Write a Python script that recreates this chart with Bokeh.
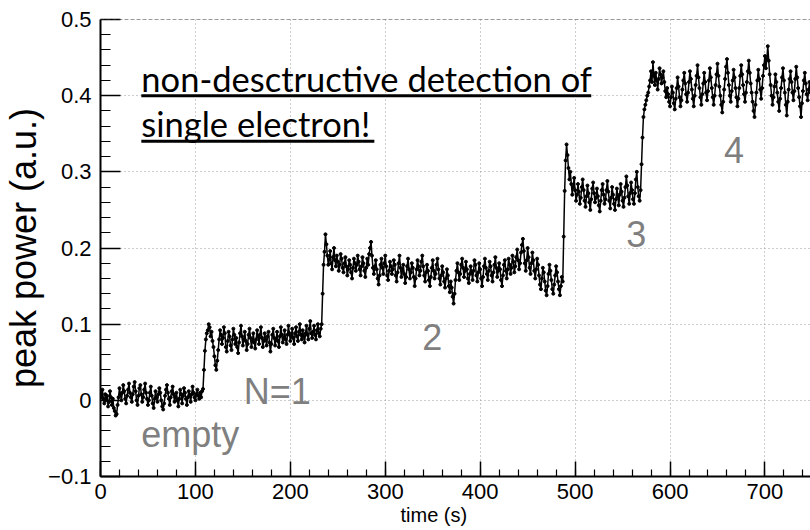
import numpy as np
from bokeh.plotting import figure
from bokeh.models import Label, Span, Range1d, FixedTicker, CustomJSTickFormatter, ColumnDataSource, Title
from bokeh.embed import file_html
from bokeh.resources import INLINE

# ---- data (peak power, in units of 0.001 a.u.), one reading per second from t = 0 ----
sample_step_s = 1
empty_vals = [10, 4, 14, 2, -4, 8, 0, 6, -8, -2,
              12, 4, -6, 2, -10, -14, -20, -18, -6, 4,
              16, 8, 0, 10, 20, 12, 2, -4, 6, 14,
              22, 10, 4, -2, 8, 18, 24, 12, 0, -6,
              6, 16, 20, 8, -2, 4, 14, 22, 10, 2,
              -6, 0, 10, 18, 6, -4, -10, 2, 12, 4,
              -2, 8, 16, 10, 0, -8, -12, -4, 6, 14,
              20, 10, 2, -6, 4, 12, 18, 8, -2, 4,
              10, 0, -8, 2, 14, 8, -4, 6, 16, 10,
              2, -6, 4, 12, 6, -2, 8, 18, 10, 4,
              0, 8, 14, 6, 2, 10, 4, 12]
rise_1 = [15, 40, 65, 80, 88]
n1_vals = [92, 100, 96, 84, 90, 78, 70, 58, 46, 40,
           52, 66, 80, 92, 86, 74, 82, 96, 88, 70,
           64, 78, 90, 84, 72, 66, 80, 94, 86, 74,
           82, 70, 62, 76, 88, 98, 84, 72, 80, 90,
           78, 66, 74, 86, 94, 82, 70, 78, 88, 76,
           68, 80, 92, 84, 74, 86, 96, 82, 70, 78,
           88, 80, 72, 84, 90, 76, 64, 74, 86, 94,
           82, 72, 80, 90, 78, 70, 84, 96, 86, 76,
           82, 92, 80, 74, 86, 98, 88, 78, 84, 94,
           82, 74, 88, 96, 84, 78, 90, 100, 86, 80,
           92, 84, 76, 88, 98, 86, 80, 94, 104, 88,
           82, 90, 98, 86, 80, 92, 100, 88, 84, 94]
rise_2 = [100, 140, 178, 195, 218]
n2_vals = [205, 190, 178, 185, 196, 180, 172, 188, 200, 184,
           176, 190, 182, 170, 178, 192, 186, 174, 168, 180,
           188, 176, 164, 172, 184, 178, 168, 160, 174, 186,
           180, 170, 178, 190, 182, 172, 164, 176, 188, 180,
           170, 162, 174, 186, 178, 192, 200, 208, 190, 174,
           166, 176, 184, 172, 160, 152, 164, 178, 186, 174,
           166, 180, 190, 176, 164, 158, 170, 182, 176, 166,
           172, 184, 178, 164, 156, 168, 180, 190, 174, 162,
           170, 178, 166, 154, 162, 176, 186, 172, 160, 168,
           180, 174, 162, 150, 160, 172, 184, 176, 164, 170,
           182, 190, 176, 164, 156, 168, 178, 170, 158, 150,
           162, 174, 184, 170, 160, 166, 178, 186, 172, 160,
           152, 164, 176, 168, 156, 148, 160, 172, 164, 150,
           142, 156, 148, 136, 127, 140, 158, 170, 180, 168,
           158, 166, 178, 186, 174, 162, 170, 182, 172, 160,
           154, 166, 176, 168, 158, 170, 184, 178, 164, 156,
           168, 180, 172, 160, 150, 162, 176, 186, 174, 166,
           158, 170, 182, 176, 164, 156, 168, 178, 188, 174,
           162, 170, 180, 172, 158, 150, 164, 178, 184, 170,
           160, 172, 186, 178, 166, 174, 190, 182, 168, 176,
           188, 198, 184, 172, 180, 194, 204, 212, 196, 180,
           170, 184, 200, 188, 174, 166, 180, 194, 184, 170,
           160, 172, 186, 178, 164, 152, 146, 160, 174, 168,
           156, 144, 138, 150, 166, 178, 170, 158, 146, 140,
           152, 164, 176, 168, 156, 146, 138, 150, 162, 156]
rise_3 = [215, 275, 315, 336]
n3_vals = [322, 305, 290, 300, 284, 270, 280, 292, 276, 262,
           270, 284, 274, 258, 266, 280, 290, 276, 262, 254,
           268, 282, 272, 260, 250, 264, 278, 286, 272, 260,
           266, 278, 268, 256, 248, 262, 276, 284, 270, 258,
           264, 276, 288, 274, 262, 252, 266, 280, 270, 258,
           250, 264, 278, 268, 256, 270, 284, 274, 262, 254,
           266, 280, 294, 282, 268, 258, 272, 286, 276, 264,
           258, 272, 290, 300, 280, 268, 262, 276]
rise_4 = [310, 345, 372, 382, 388, 394, 400]
n4_vals = [404, 412, 420, 432, 418, 444, 426, 414, 430, 420,
           408, 422, 436, 428, 416, 424, 432, 418, 406, 398,
           410, 402, 392, 386, 398, 412, 404, 390, 382, 396,
           410, 424, 412, 398, 386, 394, 408, 420, 430, 416,
           402, 392, 404, 418, 432, 422, 408, 396, 386, 400,
           414, 426, 440, 424, 410, 398, 388, 402, 416, 430,
           418, 404, 394, 406, 420, 436, 424, 410, 398, 388,
           400, 414, 428, 442, 426, 412, 400, 388, 378, 392,
           408, 422, 438, 448, 430, 414, 400, 392, 406, 420,
           434, 424, 410, 398, 386, 396, 410, 426, 440, 428,
           414, 402, 392, 404, 418, 432, 446, 430, 416, 404,
           392, 380, 372, 388, 404, 420, 434, 422, 408, 396,
           410, 426, 440, 452, 436, 448, 465, 446, 428, 414,
           400, 388, 398, 412, 428, 418, 404, 392, 380, 396,
           410, 424, 436, 420, 404, 388, 374, 392, 408, 422,
           432, 418, 404, 394, 406, 422, 438, 424, 410, 398,
           386, 372, 390, 406, 420, 430, 416, 402, 394, 408,
           418, 404]

x_ticks = [0, 100, 200, 300, 400, 500, 600, 700]
y_ticks = [-0.1, 0.0, 0.1, 0.2, 0.3, 0.4, 0.5]

segments = [empty_vals, rise_1, n1_vals, rise_2, n2_vals, rise_3, n3_vals, rise_4, n4_vals]
power = np.concatenate([np.array(s, dtype=float) for s in segments]) / 1000.0
time = np.arange(len(power)) * sample_step_s
src = ColumnDataSource(dict(t=time, v=power))

p = figure(width=810, height=530, title=None,
           x_range=Range1d(0, 748), y_range=Range1d(-0.1, 0.5),
           output_backend="svg", toolbar_location=None,
           min_border_left=97, min_border_right=0, min_border_top=19, min_border_bottom=54)
p.outline_line_color = None
p.background_fill_color = "white"
p.border_fill_color = "white"

# axes
p.xaxis.ticker = FixedTicker(ticks=x_ticks, minor_ticks=list(np.arange(0, 760, 20)))
p.yaxis.ticker = FixedTicker(ticks=y_ticks, minor_ticks=list(np.round(np.arange(-0.1, 0.501, 0.02), 3)))
p.yaxis.formatter = CustomJSTickFormatter(code="""
    if (Math.abs(tick) < 1e-9) return "0";
    if (tick < 0) return "\u2212" + (-tick).toFixed(1);
    return tick.toFixed(1);
""")
for ax in (p.xaxis[0], p.yaxis[0]):
    ax.axis_line_width = 2
    ax.axis_line_color = "black"
    ax.major_tick_line_width = 1.5
    ax.minor_tick_line_width = 1.2
    ax.major_tick_out = 0
    ax.minor_tick_out = 0
    ax.major_label_text_font = "Liberation Sans"
    ax.major_label_text_font_size = "22px"
    ax.major_label_text_color = "black"
p.yaxis.major_tick_in = 20
p.yaxis.minor_tick_in = 10
p.xaxis.major_tick_in = 15
p.xaxis.minor_tick_in = 7
p.yaxis.major_label_standoff = 9
p.xaxis.major_label_standoff = 7

p.yaxis.axis_label = "peak power (a.u.)"
p.yaxis.axis_label_text_font = "Liberation Sans"
p.yaxis.axis_label_text_font_size = "36px"
p.yaxis.axis_label_text_font_style = "normal"
p.yaxis.axis_label_text_color = "black"
p.yaxis.axis_label_standoff = 1

p.add_layout(Title(text="time (s)", align="left", offset=300, standoff=0,
                   text_font="Liberation Sans", text_font_size="20px",
                   text_font_style="normal", text_color="black"), "below")

p.grid.grid_line_color = "#999999"
p.grid.grid_line_dash = "1 3"
p.grid.grid_line_width = 1

p.add_layout(Span(location=0.5, dimension="width", line_color="#333333",
                  line_width=1, line_dash="4 2"))

# data
p.line("t", "v", source=src, line_color="black", line_width=1.5)
p.scatter("t", "v", source=src, size=3, color="black")

# headline annotation with underlines
p.add_layout(Label(x=43, y=0.4225, text="non-desctructive detection of",
                   text_align="left", text_baseline="middle",
                   text_font="Lato", text_font_size="34.5px", text_color="black"))
p.add_layout(Label(x=43, y=0.3634, text="single electron!",
                   text_align="left", text_baseline="middle",
                   text_font="Lato", text_font_size="34.5px", text_color="black"))
p.segment(x0=[43, 43], y0=[0.400, 0.340], x1=[517, 288.5], y1=[0.400, 0.340],
          line_color="black", line_width=3)

# state labels
gray = "#7f7f7f"
for txt, x, y in [("empty", 43, -0.0452), ("N=1", 151, 0.0116), ("2", 339, 0.0837),
                  ("3", 554, 0.219), ("4", 657, 0.329)]:
    p.add_layout(Label(x=x, y=y, text=txt, text_align="left", text_baseline="middle",
                       text_font="Liberation Sans", text_font_size="36px", text_color=gray))

open("out.html", "w").write(file_html(p, INLINE))
